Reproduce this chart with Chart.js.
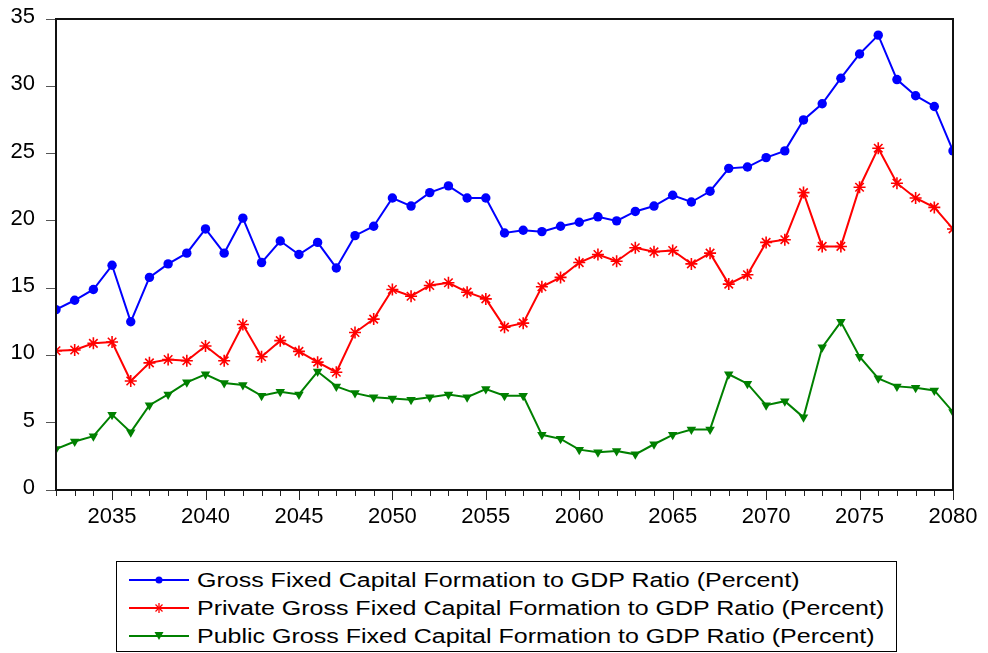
<!DOCTYPE html>
<html>
<head>
<meta charset="utf-8">
<title>Gross Fixed Capital Formation to GDP Ratio</title>
<script src="https://cdn.jsdelivr.net/npm/chart.js@4.4.1/dist/chart.umd.min.js"></script>
<style>
  body { margin: 0; background: #fff; }
  #wrap { position: relative; width: 988px; height: 653px; }
  #legend {
    position: absolute; left: 116px; top: 561px; width: 779px; height: 89px;
    border: 1px solid #000; background: #fff;
    font-family: 'Liberation Sans', Arial, sans-serif; font-size: 20px; color: #000;
  }
  .item { position: absolute; left: 0; height: 24px; width: 100%; }
  .item svg { position: absolute; left: 12px; top: 4px; }
  .item span { position: absolute; left: 80px; top: 0; line-height: 24px; white-space: nowrap; transform-origin: left center; }
</style>
</head>
<body>
<div id="wrap">
  <canvas id="chart" width="988" height="653"></canvas>
  <div id="legend"></div>
</div>
<script>
const years = [2032, 2033, 2034, 2035, 2036, 2037, 2038, 2039, 2040, 2041,
  2042, 2043, 2044, 2045, 2046, 2047, 2048, 2049, 2050, 2051,
  2052, 2053, 2054, 2055, 2056, 2057, 2058, 2059, 2060, 2061,
  2062, 2063, 2064, 2065, 2066, 2067, 2068, 2069, 2070, 2071,
  2072, 2073, 2074, 2075, 2076, 2077, 2078, 2079, 2080];

const gross = [13.4, 14.1, 14.9, 16.7, 12.5, 15.8, 16.8, 17.6, 19.4, 17.6,
  20.2, 16.9, 18.5, 17.5, 18.4, 16.5, 18.9, 19.6, 21.7, 21.1,
  22.1, 22.6, 21.7, 21.7, 19.1, 19.3, 19.2, 19.6, 19.9, 20.3,
  20.0, 20.7, 21.1, 21.9, 21.4, 22.2, 23.9, 24.0, 24.7, 25.2,
  27.5, 28.7, 30.6, 32.4, 33.8, 30.5, 29.3, 28.5, 25.2];

const privateGfcf = [10.35, 10.4, 10.9, 11.0, 8.1, 9.45, 9.7, 9.6, 10.7, 9.6,
  12.3, 9.9, 11.1, 10.3, 9.5, 8.75, 11.7, 12.7, 14.9, 14.4,
  15.2, 15.4, 14.7, 14.2, 12.1, 12.4, 15.1, 15.8, 16.9, 17.5,
  17.0, 18.0, 17.7, 17.8, 16.8, 17.6, 15.3, 16.0, 18.4, 18.6,
  22.1, 18.1, 18.1, 22.5, 25.4, 22.8, 21.7, 21.0, 19.4];

const publicGfcf = [3.05, 3.6, 4.0, 5.6, 4.3, 6.3, 7.1, 8.0, 8.6, 7.95,
  7.8, 7.0, 7.3, 7.1, 8.8, 7.7, 7.2, 6.9, 6.8, 6.7,
  6.9, 7.1, 6.9, 7.5, 7.0, 7.0, 4.1, 3.8, 3.0, 2.8,
  2.9, 2.65, 3.4, 4.1, 4.5, 4.5, 8.6, 7.9, 6.3, 6.6,
  5.4, 10.6, 12.5, 9.9, 8.3, 7.7, 7.6, 7.4, 5.8];

const seriesNames = [
  'Gross Fixed Capital Formation to GDP Ratio (Percent)',
  'Private Gross Fixed Capital Formation to GDP Ratio (Percent)',
  'Public Gross Fixed Capital Formation to GDP Ratio (Percent)'
];

const yTicks = [0, 5, 10, 15, 20, 25, 30, 35];

const fontFamily = "'Liberation Sans', Arial, sans-serif";

// frame round the plot and the year tick marks under it
const frameAndTicks = {
  id: 'frameAndTicks',
  afterDraw(chart) {
    const { ctx, chartArea: a, scales: { x } } = chart;
    ctx.save();
    ctx.strokeStyle = '#222';
    ctx.lineWidth = 1;
    years.forEach((yr, i) => {
      const px = Math.round(x.getPixelForTick(i)) + 0.5;
      const len = yr % 5 === 0 ? 10 : 6;
      ctx.beginPath();
      ctx.moveTo(px, a.bottom);
      ctx.lineTo(px, a.bottom + len);
      ctx.stroke();
    });
    ctx.strokeStyle = '#111';
    ctx.lineWidth = 2;
    ctx.strokeRect(a.left, a.top, a.right - a.left, a.bottom - a.top);
    ctx.restore();
  }
};

const ctx = document.getElementById('chart').getContext('2d');
const chart = new Chart(ctx, {
  type: 'line',
  data: {
    labels: years,
    datasets: [
      {
        label: seriesNames[0],
        data: gross,
        borderColor: '#0000ff',
        backgroundColor: '#0000ff',
        borderWidth: 2,
        pointStyle: 'circle',
        pointRadius: 4.7,
        pointBorderWidth: 0,
        clip: 0,
        tension: 0
      },
      {
        label: seriesNames[1],
        data: privateGfcf,
        borderColor: '#ff0000',
        backgroundColor: '#ff0000',
        borderWidth: 2,
        pointStyle: 'star',
        pointRadius: 6,
        pointBorderWidth: 1.6,
        clip: 0,
        tension: 0
      },
      {
        label: seriesNames[2],
        data: publicGfcf,
        borderColor: '#008000',
        backgroundColor: '#008000',
        borderWidth: 2,
        pointStyle: 'triangle',
        pointRotation: 180,
        pointRadius: 5.5,
        pointBorderWidth: 0,
        clip: 0,
        tension: 0
      }
    ]
  },
  options: {
    responsive: false,
    animation: false,
    layout: { autoPadding: false, padding: { top: 19, right: 35, left: 0, bottom: 0 } },
    plugins: {
      legend: { display: false },
      tooltip: { enabled: false }
    },
    scales: {
      x: {
        type: 'category',
        offset: false,
        border: { display: false },
        grid: { display: false, drawTicks: false },
        afterFit: function(scale) {
          scale.height = 163;
          scale.paddingLeft = 0;
          scale.paddingRight = 0;
        },
        ticks: {
          autoSkip: false,
          maxRotation: 0,
          padding: 14,
          color: '#000',
          font: { family: fontFamily, size: 22 },
          callback: function(val, idx) {
            return years[idx] % 5 === 0 ? String(years[idx]) : '';
          }
        }
      },
      y: {
        min: 0,
        max: 35,
        border: { display: false },
        grid: { drawOnChartArea: false, drawTicks: true, tickLength: 10, color: '#555' },
        afterFit: function(scale) {
          scale.width = 56;
          scale.paddingTop = 0;
          scale.paddingBottom = 0;
        },
        afterBuildTicks: function(scale) {
          scale.ticks = yTicks.map(v => ({ value: v }));
        },
        ticks: {
          padding: 11,
          labelOffset: -2,
          color: '#000',
          font: { family: fontFamily, size: 22 }
        }
      }
    }
  },
  plugins: [frameAndTicks]
});

// legend in its own box under the chart
function markerSvg(i, color) {
  let mark = '';
  if (i === 0) {
    mark = `<circle cx="30" cy="8" r="3.5" fill="${color}"/>`;
  } else if (i === 1) {
    mark = `<g stroke="${color}" stroke-width="1.3">
      <line x1="30" y1="3" x2="30" y2="13"/><line x1="25" y1="8" x2="35" y2="8"/>
      <line x1="26.5" y1="4.5" x2="33.5" y2="11.5"/><line x1="33.5" y1="4.5" x2="26.5" y2="11.5"/></g>`;
  } else {
    mark = `<polygon points="25.5,4 34.5,4 30,12" fill="${color}"/>`;
  }
  return `<svg width="60" height="16"><line x1="0" y1="8" x2="60" y2="8" stroke="${color}" stroke-width="2"/>${mark}</svg>`;
}

const legendDiv = document.getElementById('legend');
const rowTops = [6, 34, 62];
const measure = document.createElement('canvas').getContext('2d');
measure.font = '20px ' + fontFamily;
const stretch = 603 / measure.measureText(seriesNames[0]).width;
chart.data.datasets.forEach((ds, i) => {
  const item = document.createElement('div');
  item.className = 'item';
  item.style.top = rowTops[i] + 'px';
  item.innerHTML = markerSvg(i, ds.borderColor) + `<span style="transform: scaleX(${stretch.toFixed(3)})">${ds.label}</span>`;
  legendDiv.appendChild(item);
});
</script>
</body>
</html>
